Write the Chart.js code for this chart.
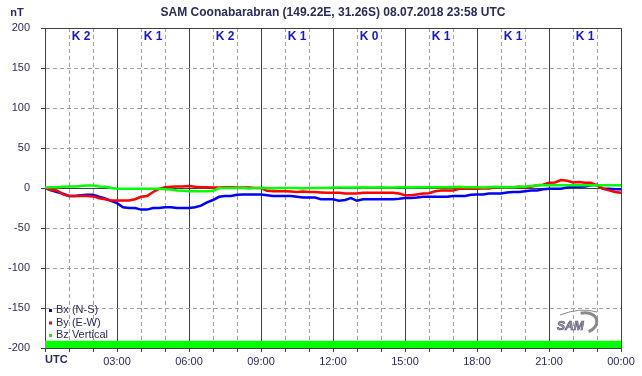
<!DOCTYPE html>
<html>
<head>
<meta charset="utf-8">
<script src="https://cdn.jsdelivr.net/npm/chart.js@4/dist/chart.umd.min.js"></script>
<style>
  body { margin: 0; background: #fff; }
  #wrap { width: 642px; height: 376px; }
</style>
</head>
<body>
<div id="wrap"><canvas id="magChart" width="642" height="376"></canvas></div>
<script>
// SAM Coonabarabran, 08.07.2018 - values in nT, one sample per 15 min
const title = "SAM Coonabarabran (149.22E, 31.26S) 08.07.2018 23:58 UTC";
const times = Array.from({ length: 97 }, (_, i) => i / 4); // hours UTC

const bx = [
  0, -3, -5, -7,          -10, -10, -9, -8.5,      -8.5, -11, -13, -16,
  -19, -24, -25, -25,     -27, -27, -25, -25,      -24, -24, -25, -25,
  -25, -24, -22, -18,     -15, -11, -10, -10,      -8.5, -8, -8, -8,
  -8, -9, -10, -10,       -10, -10, -11, -12,      -12, -12, -14, -14,
  -14, -16, -15, -12.5,   -16, -14, -14, -14,      -14, -14, -14, -13.5,
  -12.5, -12.5, -12, -11, -11, -11, -11, -11,      -10, -10, -10, -8.5,
  -8, -8, -7, -7,         -7, -5.5, -5, -5,        -4, -3, -3, -1.5,
  -1, -1, -1, 0.5,        1.5, 1.5, 2, 3.5,        4, -1, -1, -1.5,
  -1.5
];
const by = [
  0, -2.5, -3, -8,        -10, -10, -10, -10,      -10.5, -13, -14, -15.5,
  -15.5, -15.5, -15.5, -14, -11, -10, -5, -1,      1, 1.5, 2, 2,
  2.5, 1.5, 1, 1,         0.5, 0.5, 1, 1,          0.5, 0.5, 0.5, 0,
  0, -3.5, -4, -4,        -4, -4.5, -5, -4.5,      -5, -5, -5.5, -6,
  -6, -6, -7, -7,         -7, -6, -6, -6,          -6, -6, -6, -7,
  -9, -9, -8, -7,         -6.5, -4, -3, -3,        -3, -1, -1, -1,
  -1, -0.5, -0.5, 1,      1, 1, 1, 1.5,            1, 1.5, 3.5, 4,
  6.5, 7, 10, 9,          7, 7.5, 6.5, 6.5,        3, -1, -3, -5,
  -6
];
const bz = [
  0.5, 1, 1, 1.5,         2, 2, 2.5, 3,            3, 2, 1.5, 0,
  -1, -1, -1, -1,         -1, -1, -1, -1,          -1.5, -2, -3, -3.5,
  -4, -4, -4, -4,         -3.5, 0, 0, 0,           0, 0, -0.5, 0,
  0, 0, -0.5, 0,          0, 0, 0, -0.5,           0, 0, 0, 0,
  0.5, 0.5, 0.5, 0.5,     0.5, 1, 0.5, 0.5,        1, 0.5, 0.5, 1,
  1, 0.5, 1, 1,           1, 1, 1, 1,              1, 1.5, 1, 1,
  1, 0.5, 1, 1.5,         1, 1, 1, 1.5,            1.5, 2.5, 3.5, 3.5,
  3.5, 3.5, 3.5, 3.5,     3.5, 3.5, 3.5, 3.5,      3.5, 3.5, 3.5, 3.5,
  3.5
];

// data coverage bar along the bottom
const coverageTimes = [0, 24];
const coverage = [-191, -191];

// K index per 3-hour block
const kIndex = [2, 1, 2, 1, 0, 1, 1, 1];

const xTickLabels = ["UTC", "03:00", "06:00", "09:00", "12:00", "15:00", "18:00", "21:00", "00:00"];
const seriesNames = ["Bx (N-S)", "By (E-W)", "Bz Vertical"];

const textCol = "#2b2b5a";
const dashCol = "#a0a0a0";
const solidCol = "#404040";

function pts(xs, ys) {
  return xs.map((x, i) => ({ x: x, y: ys[i] }));
}

// title, nT, UTC label, K indices, legend, logo
const extras = {
  id: "extras",
  afterDraw(chart) {
    const ctx = chart.ctx;
    const a = chart.chartArea;
    const xs = chart.scales.x;
    ctx.save();

    ctx.fillStyle = textCol;
    ctx.textBaseline = "middle";
    ctx.font = "bold 12px 'Liberation Sans', Arial, sans-serif";
    ctx.textAlign = "center";
    ctx.fillText(title, (a.left + a.right) / 2, 13);

    ctx.font = "bold 11px 'Liberation Sans', Arial, sans-serif";
    ctx.fillText("nT", 17, 13);

    ctx.textAlign = "left";
    ctx.font = "bold 11px 'Liberation Sans', Arial, sans-serif";
    ctx.fillText(xTickLabels[0], a.left, 360);

    // K index
    ctx.textAlign = "center";
    ctx.fillStyle = "#1414e6";
    ctx.font = "bold 12px 'Liberation Sans', Arial, sans-serif";
    kIndex.forEach((k, i) => {
      ctx.fillText("K " + k, xs.getPixelForValue(i * 3 + 1.5), 37);
    });

    // legend
    ctx.textAlign = "left";
    ctx.font = "11px 'Liberation Sans', Arial, sans-serif";
    chart.data.datasets.slice(0, 3).forEach((ds, i) => {
      const y = 310 + i * 12.5;
      ctx.fillStyle = ds.borderColor;
      ctx.fillRect(a.left + 4, y - 1, 3, 3);
      ctx.fillStyle = textCol;
      ctx.fillText(ds.label, a.left + 11, y);
    });

    // SAM logo
    ctx.strokeStyle = "#8a8a8a";
    ctx.lineWidth = 3;
    ctx.beginPath();
    ctx.ellipse(583, 323, 14, 10, -0.2, -1.6, 1.3);
    ctx.stroke();
    ctx.lineWidth = 1;
    ctx.beginPath();
    ctx.moveTo(560, 315);
    ctx.quadraticCurveTo(580, 307, 597, 312);
    ctx.stroke();
    ctx.font = "italic bold 12px 'Liberation Sans', Arial, sans-serif";
    ctx.fillStyle = "#9a9aa8";
    ctx.strokeStyle = "#55557a";
    ctx.lineWidth = 0.6;
    ctx.fillText("SAM", 557, 327);
    ctx.strokeText("SAM", 557, 327);

    ctx.restore();
  }
};

new Chart(document.getElementById("magChart"), {
  type: "line",
  data: {
    datasets: [
      { label: seriesNames[0], data: pts(times, bx), borderColor: "#0000ff", order: 2 },
      { label: seriesNames[1], data: pts(times, by), borderColor: "#ff0000", order: 1 },
      { label: seriesNames[2], data: pts(times, bz), borderColor: "#00ff00", order: 0 },
      {
        label: "coverage", data: pts(coverageTimes, coverage),
        borderWidth: 0, backgroundColor: "#00ff00", fill: "start", order: 3
      }
    ]
  },
  options: {
    responsive: false,
    animation: false,
    devicePixelRatio: 1,
    layout: { padding: { top: 28, right: 21, left: 0, bottom: 0 } },
    elements: {
      point: { radius: 0 },
      line: { borderWidth: 2.5, tension: 0 }
    },
    plugins: { legend: { display: false }, tooltip: { enabled: false }, title: { display: false } },
    scales: {
      x: {
        type: "linear", min: 0, max: 24,
        afterFit: s => { s.height = 28; },
        ticks: {
          stepSize: 1, autoSkip: false, maxRotation: 0, padding: 3,
          color: textCol, font: { size: 11, family: "'Liberation Sans', Arial, sans-serif" },
          callback: v => (v % 3 === 0 && v > 0) ? xTickLabels[v / 3] : ""
        },
        grid: {
          color: c => (c.tick && c.tick.value % 3 === 0) ? "rgba(0,0,0,0)" : dashCol,
          tickColor: solidCol, tickLength: 4
        },
        border: { color: solidCol, dash: [4, 3] }
      },
      x2: {
        type: "linear", position: "bottom", min: 0, max: 24,
        afterFit: s => { s.height = 0; },
        ticks: { display: false, stepSize: 3 },
        grid: { color: solidCol, drawTicks: false },
        border: { display: false }
      },
      y: {
        min: -200, max: 200,
        afterFit: s => { s.width = 45; },
        ticks: {
          stepSize: 50, padding: 11, color: textCol,
          font: { size: 11, family: "'Liberation Sans', Arial, sans-serif" }
        },
        grid: {
          color: c => (c.tick && [0, 200, -200].includes(c.tick.value)) ? "rgba(0,0,0,0)" : dashCol,
          tickColor: solidCol, tickLength: 4
        },
        border: { color: solidCol, dash: [4, 3] }
      },
      y2: {
        position: "left", min: -200, max: 200,
        afterFit: s => { s.width = 0; },
        ticks: { display: false, stepSize: 200 },
        grid: { color: solidCol, drawTicks: false },
        border: { display: false }
      }
    }
  },
  plugins: [extras]
});
</script>
</body>
</html>
